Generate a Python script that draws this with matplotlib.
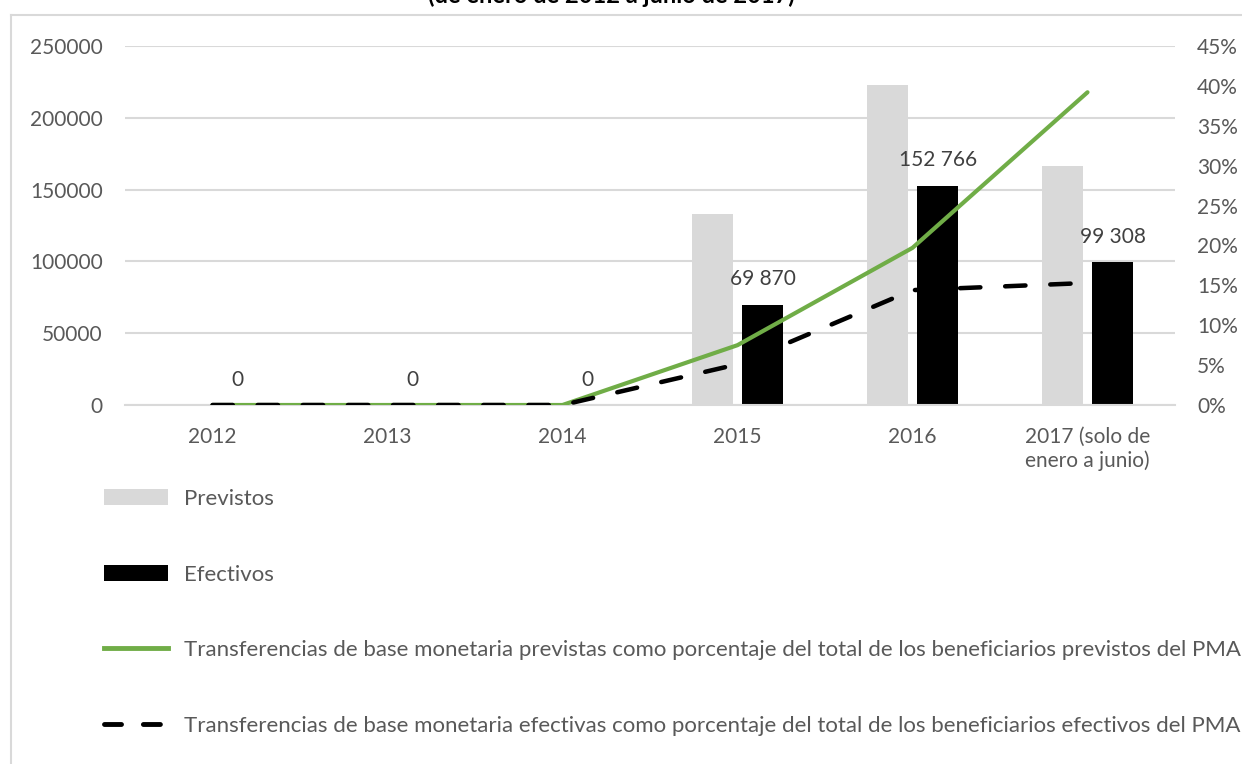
import matplotlib.pyplot as plt
import numpy as np
from matplotlib.lines import Line2D
from matplotlib.patches import Patch
from matplotlib.ticker import FuncFormatter, MultipleLocator

# values
years = ["2012", "2013", "2014", "2015", "2016", "2017 (solo de\nenero a junio)"]
previstos = [0, 0, 0, 132800, 222800, 166400]
efectivos = [0, 0, 0, 69870, 152766, 99308]
efectivos_labels = ["0", "0", "0", "69 870", "152 766", "99 308"]
pct_previstas = [0.0, 0.0, 0.0, 0.075, 0.197, 0.392]
pct_efectivas = [0.0, 0.0, 0.0, 0.051, 0.144, 0.153]

title = "(de enero de 2012 a junio de 2017)"
legend_labels = [
    "Previstos",
    "Efectivos",
    "Transferencias de base monetaria previstas como porcentaje del total de los beneficiarios previstos del PMA",
    "Transferencias de base monetaria efectivas como porcentaje del total de los beneficiarios efectivos del PMA",
]

GREY_BAR = "#d9d9d9"
GREEN = "#70ad47"
TEXT = "#595959"
GRID = "#d9d9d9"

plt.rcParams["font.family"] = ["Lato", "DejaVu Sans"]

W, H = 1242, 764
fig = plt.figure(figsize=(W / 100, H / 100), dpi=100)

# chart border, only the top and left edges are visible
fig.add_artist(Line2D([11 / W, 11 / W], [0, 1 - 15 / H], color=GRID, lw=1.5))
fig.add_artist(Line2D([11 / W, 1], [1 - 15 / H, 1 - 15 / H], color=GRID, lw=1.5))
# the title sits above the crop, only its lowest edge shows
fig.text(611 / W, 1 - 3 / H, title, ha="center", va="baseline",
         fontsize=17, fontweight="bold", color="black")

ax = fig.add_axes([125 / W, 1 - 405 / H, 1050 / W, 359 / H])
ax2 = ax.twinx()

x = np.arange(len(years))
bw = 0.235
off = 0.145
ax.bar(x - off, previstos, bw, color=GREY_BAR, zorder=2)
ax.bar(x + off, efectivos, bw, color="black", zorder=2)

for xi, v, lab in zip(x, efectivos, efectivos_labels):
    ax.annotate(lab, (xi + off, v), xytext=(0, 11), textcoords="offset points",
                ha="center", va="bottom", fontsize=15, color="#404040")

ax.set_xlim(-0.5, len(years) - 0.5)
ax.set_ylim(0, 250000)
ax.yaxis.set_major_locator(MultipleLocator(50000))
ax.grid(axis="y", color=GRID, lw=1.5, zorder=0)
ax.set_axisbelow(True)
ax.set_xticks(x)
ax.set_xticklabels(years)
ax.tick_params(axis="x", length=0, pad=16, labelsize=15, labelcolor=TEXT)
ax.tick_params(axis="y", length=0, pad=16, labelsize=15, labelcolor=TEXT)
for s in ["top", "right", "left"]:
    ax.spines[s].set_visible(False)
ax.spines["bottom"].set_color(GRID)
ax.spines["bottom"].set_linewidth(1.5)

ax2.plot(x, pct_previstas, color=GREEN, lw=3, solid_capstyle="round", zorder=3)
ax2.plot(x, pct_efectivas, color="black", lw=3.25, dashes=(4.5, 5.5),
         dash_capstyle="round", zorder=4)
ax2.set_ylim(0, 0.45)
ax2.yaxis.set_major_locator(MultipleLocator(0.05))
ax2.yaxis.set_major_formatter(FuncFormatter(lambda v, p: f"{v * 100:.0f}%"))
ax2.tick_params(axis="y", length=0, pad=16, labelsize=15, labelcolor=TEXT)
for s in ax2.spines.values():
    s.set_visible(False)

handles = [
    Patch(facecolor=GREY_BAR),
    Patch(facecolor="black"),
    Line2D([], [], color=GREEN, lw=3.5),
    Line2D([], [], color="black", lw=3.5, dashes=(3.5, 4.5), dash_capstyle="round"),
]
fig.legend(handles, legend_labels, loc="upper left",
           bbox_to_anchor=(104 / W, 1 - 489 / H), frameon=False,
           fontsize=16, labelcolor=TEXT, handlelength=2.9, handletextpad=0.68,
           labelspacing=2.5, borderpad=0, borderaxespad=0)

fig.savefig("out.png", dpi=100)
